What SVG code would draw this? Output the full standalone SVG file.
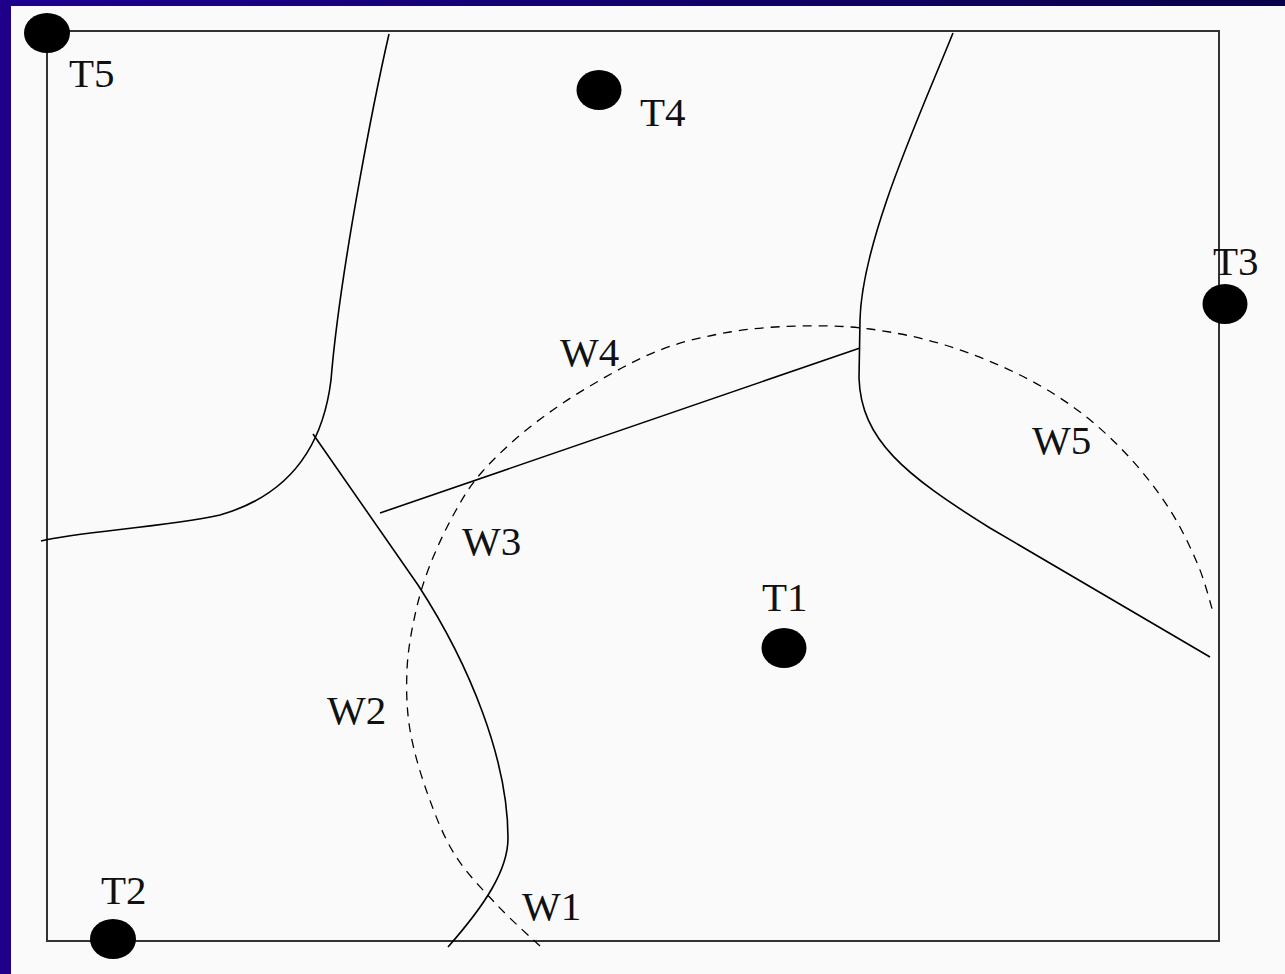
<svg xmlns="http://www.w3.org/2000/svg" width="1285" height="974" viewBox="0 0 1285 974">
<defs>
<style>
.frame{fill:none;stroke:#333;stroke-width:2}
.wall{fill:none;stroke:#000;stroke-width:1.6;stroke-linejoin:round}
.range{fill:none;stroke:#000;stroke-width:1.3;stroke-dasharray:9 7}
.dot{fill:#000}
.lbl{font-family:"Liberation Serif","Times New Roman",serif;font-size:41px;fill:#111}
</style>
<linearGradient id="topband" x1="0" y1="0" x2="1" y2="0">
<stop offset="0" stop-color="#1e0090"/>
<stop offset="1" stop-color="#08004a"/>
</linearGradient>
</defs>
<rect x="0" y="0" width="1285" height="974" fill="#fafafa"/>
<rect x="0" y="0" width="1285" height="6" fill="url(#topband)"/>
<rect x="0" y="0" width="11" height="974" fill="#1e008a"/>
<rect class="frame" x="47" y="31" width="1172" height="910"/>
<g id="connectors">
<path class="wall" d="M389,34 C375,95 340,270 331,380 C323,445 290,495 220,515 C160,528 80,531 41,541"/>
<path class="wall" d="M313,434 L418,585 C470,665 508,760 508,838 C508,870 485,905 448,947"/>
<path class="wall" d="M380,513 L860,348"/>
<path class="wall" d="M953,33 C920,115 862,240 860,320 L859,378 C861,440 905,475 990,528 L1210,657"/>
<path class="range" d="M540,946 C532.8,939.2 511.2,920.2 497,905 C482.8,889.8 466.5,873.3 455,855 C443.5,836.7 435.5,815.8 428,795 C420.5,774.2 413.5,750.8 410,730 C406.5,709.2 406.2,689.2 407,670 C407.8,650.8 411.2,632.5 415,615 C418.8,597.5 423.3,582.2 430,565 C436.7,547.8 446.3,527.5 455,512 C463.7,496.5 469.5,486.2 482,472 C494.5,457.8 512,441.3 530,427 C548,412.7 568.3,398.8 590,386 C611.7,373.2 636.7,359 660,350 C683.3,341 706.7,336 730,332 C753.3,328 776.7,326.5 800,326 C823.3,325.5 845.8,325.8 870,329 C894.2,332.2 920,337.3 945,345 C970,352.7 997.5,363.8 1020,375 C1042.5,386.2 1061.7,398.2 1080,412 C1098.3,425.8 1115,441.7 1130,458 C1145,474.3 1158.7,492.2 1170,510 C1181.3,527.8 1190.8,548 1198,565 C1205.2,582 1210.5,604.2 1213,612"/>
</g>
<g id="T5"><ellipse class="dot" cx="47" cy="33" rx="23" ry="20"/><text class="lbl" x="69" y="87">T5</text></g>
<g id="T4"><ellipse class="dot" cx="599" cy="90" rx="22.5" ry="20"/><text class="lbl" x="640" y="126">T4</text></g>
<g id="T3"><ellipse class="dot" cx="1225" cy="304" rx="22.5" ry="20"/><text class="lbl" x="1213" y="275">T3</text></g>
<g id="T2"><ellipse class="dot" cx="113" cy="939" rx="23" ry="20"/><text class="lbl" x="101" y="904">T2</text></g>
<g id="T1"><ellipse class="dot" cx="784" cy="648" rx="22.5" ry="20"/><text class="lbl" x="762" y="611">T1</text></g>
<g id="W4"><text class="lbl" x="560" y="366">W4</text></g>
<g id="W5"><text class="lbl" x="1032" y="454">W5</text></g>
<g id="W3"><text class="lbl" x="462" y="555">W3</text></g>
<g id="W2"><text class="lbl" x="327" y="724">W2</text></g>
<g id="W1"><text class="lbl" x="522" y="920">W1</text></g>
</svg>
